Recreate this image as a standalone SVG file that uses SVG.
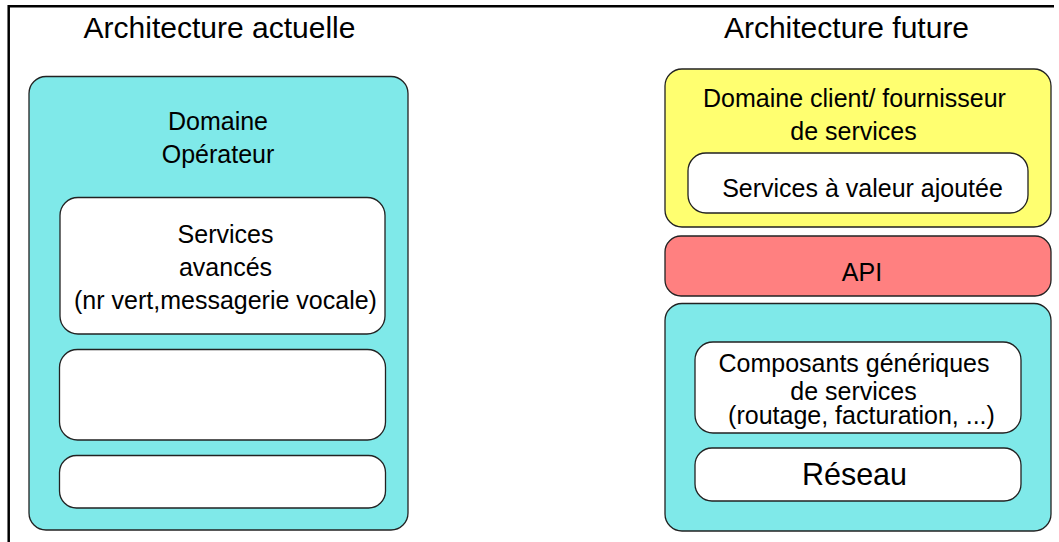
<svg xmlns="http://www.w3.org/2000/svg" width="1059" height="542" viewBox="0 0 1059 542">
<style>
text{font-family:"Liberation Sans",Arial,sans-serif;fill:#000;text-anchor:middle}
.t{font-size:30px}
.n{font-size:25px}
.b{font-size:30.5px}
.box{stroke:#222;stroke-width:1.3}
.cyan{fill:#7FE9E9}
.white{fill:#FFFFFF}
.yellow{fill:#FFFF70}
.red{fill:#FF8080}
.frame{stroke:#000;stroke-width:2.5;fill:none}
</style>
<g id="frame">
<line class="frame" x1="8" y1="6.2" x2="1054" y2="6.2"/>
<line class="frame" x1="8.7" y1="5" x2="8.7" y2="542"/>
</g>
<text class="t" x="219.5" y="38">Architecture actuelle</text>
<text class="t" x="846.5" y="38">Architecture future</text>
<g id="domaine-operateur">
<rect class="box cyan" x="29" y="76.5" width="379" height="453.5" rx="17"/>
<text class="n" x="218" y="130">Domaine</text>
<text class="n" x="218" y="163">Opérateur</text>
</g>
<g id="services-avances">
<rect class="box white" x="60" y="197.5" width="325" height="136.5" rx="18"/>
<text class="n" x="225.5" y="243">Services</text>
<text class="n" x="225.5" y="276">avancés</text>
<text class="n" x="225.5" y="309">(nr vert,messagerie vocale)</text>
</g>
<g id="box-vide-1">
<rect class="box white" x="59.5" y="349.5" width="326" height="90.5" rx="18"/>
</g>
<g id="box-vide-2">
<rect class="box white" x="59.5" y="455.5" width="326" height="52.5" rx="17"/>
</g>
<g id="domaine-client">
<rect class="box yellow" x="665" y="69" width="386" height="158" rx="17"/>
<text class="n" x="854.5" y="107">Domaine client/ fournisseur</text>
<text class="n" x="853.5" y="140">de services</text>
</g>
<g id="services-valeur">
<rect class="box white" x="688" y="153" width="340" height="60" rx="18"/>
<text class="n" x="862.5" y="197">Services à valeur ajoutée</text>
</g>
<g id="api">
<rect class="box red" x="665" y="236" width="386" height="60" rx="16"/>
<text class="n" x="862" y="281">API</text>
</g>
<g id="domaine-operateur-futur">
<rect class="box cyan" x="665" y="303.5" width="386" height="227.5" rx="17"/>
</g>
<g id="composants">
<rect class="box white" x="695" y="342" width="326" height="91" rx="18"/>
<text class="n" x="854" y="372">Composants génériques</text>
<text class="n" x="853.5" y="400">de services</text>
<text class="n" x="861.5" y="424">(routage, facturation, ...)</text>
</g>
<g id="reseau">
<rect class="box white" x="695" y="448" width="326" height="53" rx="17"/>
<text class="b" x="854.5" y="485">Réseau</text>
</g>
<g id="connectors"/>
</svg>
